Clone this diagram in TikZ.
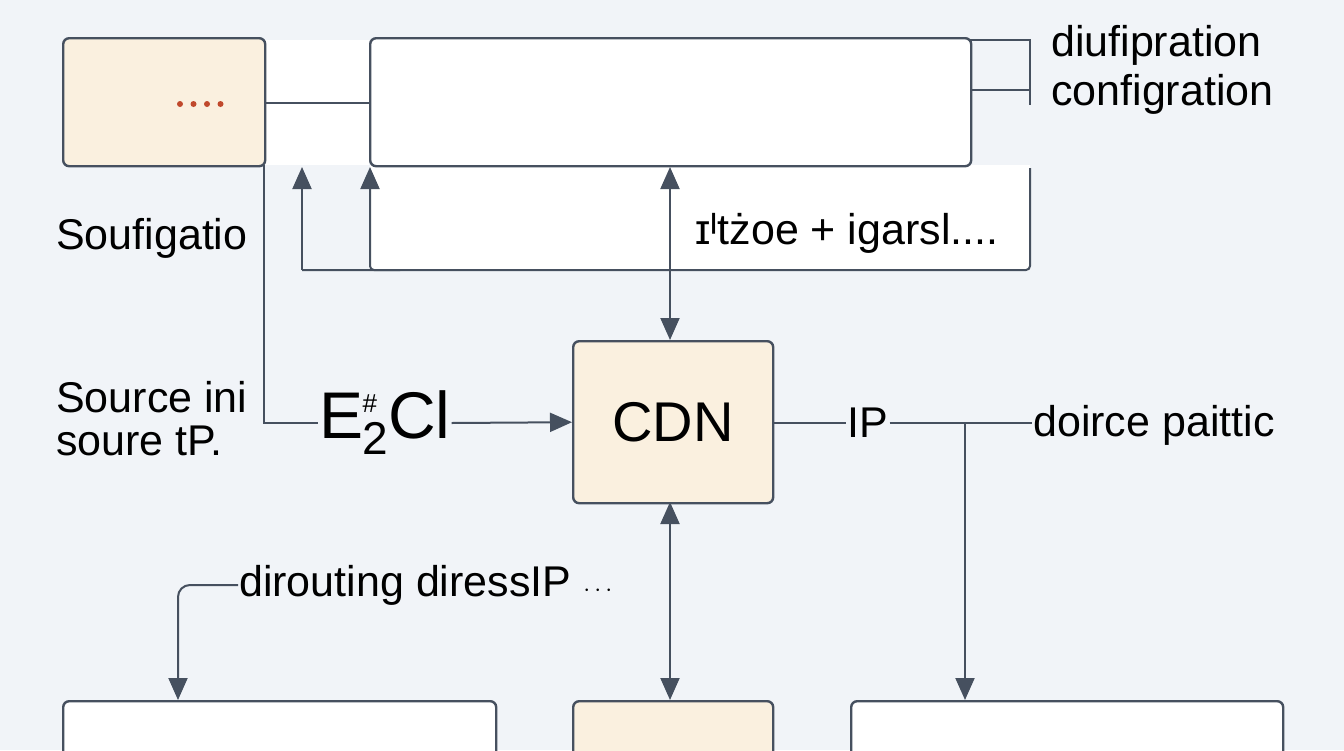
\documentclass[tikz,border=0pt]{standalone}
\usepackage{fontspec}
\setmainfont{Liberation Sans}
\usetikzlibrary{arrows.meta}
\definecolor{ln}{HTML}{46505F}
\definecolor{beige}{HTML}{FAF0DF}
\definecolor{bg}{HTML}{F1F4F8}
\definecolor{dots}{HTML}{C0492C}
\begin{document}
\begin{tikzpicture}[x=1pt,y=-1pt,
  box/.style={draw=ln,line width=2.4pt,rounded corners=6pt},
  wbox/.style={box,fill=white},
  bbox/.style={box,fill=beige},
  con/.style={draw=ln,line width=2pt},
  arr/.style={con,-{Triangle[length=22pt,width=19pt]}},
  darr/.style={con,{Triangle[length=22pt,width=19pt]}-{Triangle[length=22pt,width=19pt]}},
  lbl/.style={font=\fontsize{43}{48}\selectfont,inner sep=1pt},
  big/.style={font=\fontsize{66}{70}\selectfont,inner sep=1pt}]
\useasboundingbox[fill=bg] (0,0) rectangle (1344,750);
% white band and box C
\fill[white] (264,40) rectangle (369,165);
\fill[white] (370,165) rectangle (1030,270);
\draw[con] (1030,168) -- (1030,266) arc (0:90:4) -- (302,270);
\node[wbox,minimum width=601pt,minimum height=128pt,anchor=north west] (B) at (369,37) {};
\node[bbox,minimum width=202pt,minimum height=128pt,anchor=north west] (A) at (62,37) {};
\foreach \i in {0,1,2,3} \fill[dots] (180+\i*13.5,104) circle (3pt);
\draw[con] (A.east |- 0,103) -- (B.west |- 0,103);
% bracket
\coordinate (br1) at (1030,40);\coordinate (br2) at (1030,90);
\draw[con] (970,40) -- (br1) -- (1030,105);
\draw[con] (970,90) -- (br2);
\node[lbl,anchor=west] (dif) at (1050,45) {diufipration};
\node[lbl,anchor=west] (cfg) at (1050,94) {configration};
\node[lbl,anchor=west] (muz) at (694,233) {ɪᴵtżoe + igarsl....};
\node[lbl,anchor=west] (souf) at (55,238) {Soufigatio};
% arrows up
\coordinate (c302) at (302,270);
\draw[arr] (c302) -- (302,167);
\draw[arr,rounded corners=4pt] (400,270) -- (370,270) -- (370,167);
% CDN
\node[bbox,minimum width=200pt,minimum height=162pt,anchor=north west,font=\fontsize{56}{60}\selectfont] (CDN) at (572,340) {CDN};
\coordinate (bt) at (670,167);
\draw[darr] (bt) -- (bt |- CDN.north);
% left labels
\node[lbl,anchor=west] (src1) at (55,397) {Source ini};
\node[lbl,anchor=west] (src2) at (55,441) {soure tP.};
\node[big] (E) at (385,423) {E\kern-1pt\raisebox{0pt}{\makebox[0pt][l]{\raisebox{26pt}{\fontsize{26}{26}\selectfont\#}}\raisebox{-16pt}{\fontsize{46}{46}\selectfont 2}}Cl};
\draw[con] (264,165) -- (264,423) -- (E.west);
\draw[arr] (E.east) -- (CDN.west);
\node[lbl] (IP) at (868,423) {IP};
\draw[con] (CDN.east |- IP) -- (IP.west);
\node[lbl,anchor=west] (dp) at (1032,425) {doirce paittic};
\draw[con] (IP.east) -- (dp.west |- IP);
% bottom boxes
\node[wbox,minimum width=433pt,minimum height=100pt,anchor=north west] (L) at (62,700) {};
\node[bbox,minimum width=200pt,minimum height=100pt,anchor=north west] (M) at (572,700) {};
\node[wbox,minimum width=432pt,minimum height=100pt,anchor=north west] (R) at (850,700) {};
\draw[arr] (965,423) -- (965,700);
\coordinate (bb) at (670,502);
\draw[darr] (bb) -- (bb |- M.north);
\node[lbl,anchor=west] (dir) at (238,585) {dirouting diressIP {\fontsize{24}{24}\selectfont$\cdots$}};
\draw[arr,rounded corners=12pt] (dir.west) -- (178,585) -- (178,700);
\end{tikzpicture}
\end{document}
